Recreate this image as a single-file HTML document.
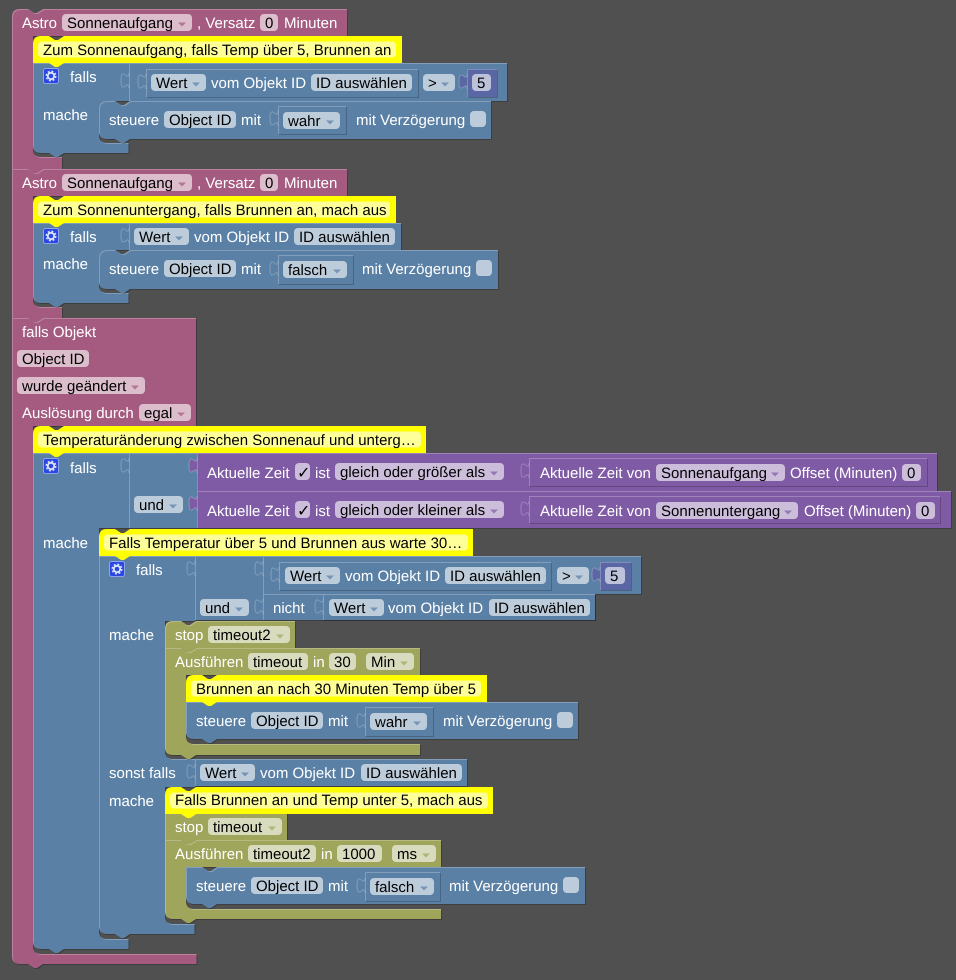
<!DOCTYPE html>
<html><head><meta charset="utf-8">
<style>
html,body{margin:0;padding:0;background:#505050}
svg{display:block}
text{font:15px "Liberation Sans","DejaVu Sans",sans-serif;fill:#fff;white-space:pre;text-rendering:geometricPrecision}
text.k{fill:#000}
text.m{font-weight:bold;font-size:16px}
rect.f{fill:#fff;fill-opacity:.6;height:17px;rx:4px;ry:4px}
rect.c{fill:#fff;fill-opacity:.6;height:16px;rx:4px;ry:4px}
.p,.u,.v,.o,.n{filter:url(#b)}
.p{fill:#a55b80}.u{fill:#5b80a5}.v{fill:#805ba5}.o{fill:#9fa55b}.n{fill:#5b67a5}
.y{fill:#ff0}
.a{fill-opacity:.72}
.tu,.tv,.tn{stroke:#fff;stroke-opacity:.24;stroke-width:1}
.tu{fill:#5b80a5}.tv{fill:#805ba5}.tn{fill:#5b67a5}
</style></head><body>
<svg xmlns="http://www.w3.org/2000/svg" width="956" height="980" viewBox="0 0 956 980">
<defs>
<filter id="b" filterUnits="userSpaceOnUse" x="0" y="0" width="956" height="980" color-interpolation-filters="sRGB">
<feOffset in="SourceAlpha" dx="1" dy="1" result="o"/>
<feComposite in="SourceAlpha" in2="o" operator="out" result="e"/>
<feFlood flood-color="#fff" flood-opacity=".24"/>
<feComposite in2="e" operator="in" result="h"/>
<feComposite in="o" in2="SourceAlpha" operator="out" result="d"/>
<feFlood flood-color="#000" flood-opacity=".22"/>
<feComposite in2="d" operator="in" result="s"/>
<feMerge><feMergeNode in="SourceGraphic"/><feMergeNode in="h"/><feMergeNode in="s"/></feMerge>
</filter>
</defs>
<rect width="956" height="980" fill="#505050"/>

<!-- BLOCK 1 -->
<path class="p" d="M20 9H28l6 4h3l6-4H347V36H33V149Q33 157 41 157H62V169H43l-6 4h-3l-6-4H12V17Q12 9 20 9Z"/>
<path class="u" d="M33 63H129V101H107Q99 101 99 109V135Q99 143 107 143H128.5V153H64l-6 4h-3l-6-4H41Q33 153 33 145Z"/>
<path class="u" d="M129 63H507V101H129Z"/><path class="tu" d="M129 88c0-10-8 8-8-7.5s8 2.5 8-7.5"/>
<path class="u" d="M146 69H418V97H146Z"/><path class="tu" d="M146 89c0-10-8 8-8-7.5s8 2.5 8-7.5"/>
<path class="n" d="M467 69H497V97H467Z"/><path class="tn" d="M467 89c0-10-8 8-8-7.5s8 2.5 8-7.5"/>
<path class="u" d="M107 101H115l6 4h3l6-4H491V139H130l-6 4h-3l-6-4H107Q99 139 99 131V109Q99 101 107 101Z"/>
<path class="u" d="M278 106H346V134H278Z"/><path class="tu" d="M278 126c0-10-8 8-8-7.5s8 2.5 8-7.5"/>
<path class="y" d="M41 36H49l6 4h3l6-4H402V63H64l-6 4h-3l-6-4H33V44Q33 36 41 36Z"/>
<text x="22" y="28">Astro</text>
<rect class="f" x="62" y="14" width="130"/><text class="k" x="67" y="28">Sonnenaufgang</text><path class="a" d="M178 22.5h8l-4 4z" fill="#a55b80"/>
<text x="197" y="28">, Versatz</text>
<rect class="f" x="260" y="14" width="18"/><text class="k" x="265" y="28">0</text>
<text x="284" y="28">Minuten</text>
<rect class="c" x="38" y="41.5" width="358"/><text class="k" x="43" y="55">Zum Sonnenaufgang, falls Temp über 5, Brunnen an</text>
<g transform="translate(43 68)"><rect x=".5" y=".5" width="15" height="15" rx="2" fill="#2a47e2" stroke="#8fa2ec"/><circle cx="8" cy="8" r="3.2" fill="none" stroke="#dfe6ff" stroke-width="1.8"/><circle cx="8" cy="8" r="4.8" fill="none" stroke="#dfe6ff" stroke-width="1.4" stroke-dasharray="2 1.8"/></g>
<text x="70" y="82">falls</text>
<rect class="f" x="151" y="74" width="55"/><text class="k" x="156" y="88">Wert</text><path class="a" d="M192 82.5h8l-4 4z" fill="#5b80a5"/>
<text x="211" y="88">vom Objekt ID</text>
<rect class="f" x="311" y="74" width="101"/><text class="k" x="316" y="88">ID auswählen</text>
<rect class="f" x="423" y="74" width="32"/><text class="k" x="428" y="88">&gt;</text><path class="a" d="M441 82.5h8l-4 4z" fill="#5b80a5"/>
<rect class="f" x="472" y="74" width="19"/><text class="k" x="477" y="88">5</text>
<text x="43" y="120">mache</text>
<text x="109" y="125">steuere</text>
<rect class="f" x="164" y="111" width="72"/><text class="k" x="169" y="125">Object ID</text>
<text x="241" y="125">mit</text>
<rect class="f" x="283" y="112" width="57"/><text class="k" x="288" y="126">wahr</text><path class="a" d="M326 120.5h8l-4 4z" fill="#5b80a5"/>
<text x="356" y="125">mit Verzögerung</text>
<rect class="c" x="470" y="111" width="16"/>

<!-- BLOCK 2 -->
<path class="p" d="M12 169H28l6 4h3l6-4H347V196H33V299Q33 307 41 307H62V318H43l-6 4h-3l-6-4H12Z"/>
<path class="u" d="M33 223H129V250H107Q99 250 99 258V285Q99 293 107 293H128.5V303H64l-6 4h-3l-6-4H41Q33 303 33 295Z"/>
<path class="u" d="M129 223H401V250H129Z"/><path class="tu" d="M129 243c0-10-8 8-8-7.5s8 2.5 8-7.5"/>
<path class="u" d="M107 250H115l6 4h3l6-4H498V289H130l-6 4h-3l-6-4H107Q99 289 99 281V258Q99 250 107 250Z"/>
<path class="u" d="M278 255H353V284H278Z"/><path class="tu" d="M278 276c0-10-8 8-8-7.5s8 2.5 8-7.5"/>
<path class="y" d="M41 196H49l6 4h3l6-4H396V223H64l-6 4h-3l-6-4H33V204Q33 196 41 196Z"/>
<text x="22" y="188">Astro</text>
<rect class="f" x="62" y="174" width="130"/><text class="k" x="67" y="188">Sonnenaufgang</text><path class="a" d="M178 182.5h8l-4 4z" fill="#a55b80"/>
<text x="197" y="188">, Versatz</text>
<rect class="f" x="260" y="174" width="18"/><text class="k" x="265" y="188">0</text>
<text x="284" y="188">Minuten</text>
<rect class="c" x="38" y="201.5" width="352"/><text class="k" x="43" y="215">Zum Sonnenuntergang, falls Brunnen an, mach aus</text>
<g transform="translate(43 228)"><rect x=".5" y=".5" width="15" height="15" rx="2" fill="#2a47e2" stroke="#8fa2ec"/><circle cx="8" cy="8" r="3.2" fill="none" stroke="#dfe6ff" stroke-width="1.8"/><circle cx="8" cy="8" r="4.8" fill="none" stroke="#dfe6ff" stroke-width="1.4" stroke-dasharray="2 1.8"/></g>
<text x="70" y="242">falls</text>
<rect class="f" x="134" y="228" width="55"/><text class="k" x="139" y="242">Wert</text><path class="a" d="M175 236.5h8l-4 4z" fill="#5b80a5"/>
<text x="194" y="242">vom Objekt ID</text>
<rect class="f" x="294" y="228" width="101"/><text class="k" x="299" y="242">ID auswählen</text>
<text x="43" y="269">mache</text>
<text x="109" y="274">steuere</text>
<rect class="f" x="164" y="260" width="72"/><text class="k" x="169" y="274">Object ID</text>
<text x="241" y="274">mit</text>
<rect class="f" x="283" y="261" width="64"/><text class="k" x="288" y="275">falsch</text><path class="a" d="M333 269.5h8l-4 4z" fill="#5b80a5"/>
<text x="362" y="274">mit Verzögerung</text>
<rect class="c" x="476" y="260" width="16"/>

<!-- BLOCK 3 -->
<path class="p" d="M12 318H28l6 4h3l6-4H196V426H33V946Q33 954 41 954H196.5V964H43l-6 4h-3l-6-4H20Q12 964 12 956Z"/>
<path class="u" d="M33 453H129V528H99V931Q99 939 107 939H128.5V949H64l-6 4h-3l-6-4H41Q33 949 33 941Z"/>
<path class="u" d="M129 453H197V528H129Z"/><path class="tu" d="M129 473c0-10-8 8-8-7.5s8 2.5 8-7.5"/>
<path class="v" d="M197 453H937V491H197Z"/><path class="tv" d="M197 473c0-10-8 8-8-7.5s8 2.5 8-7.5"/>
<path class="v" d="M197 491H951V528H197Z"/><path class="tv" d="M197 511c0-10-8 8-8-7.5s8 2.5 8-7.5"/>
<path class="v" d="M529 458H927V486H529Z"/><path class="tv" d="M529 478c0-10-8 8-8-7.5s8 2.5 8-7.5"/>
<path class="v" d="M529 496H940V523H529Z"/><path class="tv" d="M529 516c0-10-8 8-8-7.5s8 2.5 8-7.5"/>
<path class="y" d="M41 426H49l6 4h3l6-4H426V453H64l-6 4h-3l-6-4H33V434Q33 426 41 426Z"/>
<text x="22" y="337">falls Objekt</text>
<rect class="f" x="17" y="350" width="72"/><text class="k" x="22" y="364">Object ID</text>
<rect class="f" x="17" y="377" width="128"/><text class="k" x="22" y="391">wurde geändert</text><path class="a" d="M131 385.5h8l-4 4z" fill="#a55b80"/>
<text x="22" y="418">Auslösung durch</text>
<rect class="f" x="139" y="404" width="52"/><text class="k" x="144" y="418">egal</text><path class="a" d="M177 412.5h8l-4 4z" fill="#a55b80"/>
<rect class="c" x="38" y="431.5" width="383"/><text class="k" x="43" y="445">Temperaturänderung zwischen Sonnenauf und unterg…</text>
<g transform="translate(43 458)"><rect x=".5" y=".5" width="15" height="15" rx="2" fill="#2a47e2" stroke="#8fa2ec"/><circle cx="8" cy="8" r="3.2" fill="none" stroke="#dfe6ff" stroke-width="1.8"/><circle cx="8" cy="8" r="4.8" fill="none" stroke="#dfe6ff" stroke-width="1.4" stroke-dasharray="2 1.8"/></g>
<text x="70" y="473">falls</text>
<rect class="f" x="134" y="496" width="49"/><text class="k" x="139" y="510">und</text><path class="a" d="M169 504.5h8l-4 4z" fill="#5b80a5"/>
<text x="207" y="478">Aktuelle Zeit</text>
<rect class="f" x="295" y="463" width="15"/><text class="k m" x="297" y="478">✓</text>
<text x="315" y="478">ist</text>
<rect class="f" x="335" y="463" width="169"/><text class="k" x="340" y="477">gleich oder größer als</text><path class="a" d="M490 471.5h8l-4 4z" fill="#805ba5"/>
<text x="540" y="478">Aktuelle Zeit von</text>
<rect class="f" x="656" y="464" width="129"/><text class="k" x="661" y="478">Sonnenaufgang</text><path class="a" d="M771 472.5h8l-4 4z" fill="#805ba5"/>
<text x="790" y="478">Offset (Minuten)</text>
<rect class="f" x="902" y="464" width="19"/><text class="k" x="907" y="478">0</text>
<text x="207" y="516">Aktuelle Zeit</text>
<rect class="f" x="295" y="501" width="15"/><text class="k m" x="297" y="516">✓</text>
<text x="315" y="516">ist</text>
<rect class="f" x="335" y="501" width="169"/><text class="k" x="340" y="515">gleich oder kleiner als</text><path class="a" d="M490 509.5h8l-4 4z" fill="#805ba5"/>
<text x="540" y="516">Aktuelle Zeit von</text>
<rect class="f" x="656" y="502" width="142"/><text class="k" x="661" y="516">Sonnenuntergang</text><path class="a" d="M784 510.5h8l-4 4z" fill="#805ba5"/>
<text x="804" y="516">Offset (Minuten)</text>
<rect class="f" x="916" y="502" width="19"/><text class="k" x="921" y="516">0</text>
<text x="43" y="548">mache</text>

<!-- inner if -->
<path class="u" d="M99 556H195V621H165V751Q165 759 173 759H195V787H165V916Q165 924 173 924H194.5V934H130l-6 4h-3l-6-4H107Q99 934 99 926Z"/>
<path class="u" d="M195 556H263V620H195Z"/><path class="tu" d="M195 576c0-10-8 8-8-7.5s8 2.5 8-7.5"/>
<path class="u" d="M263 556H641V594H263Z"/><path class="tu" d="M263 576c0-10-8 8-8-7.5s8 2.5 8-7.5"/>
<path class="u" d="M279 562H551V590H279Z"/><path class="tu" d="M279 582c0-10-8 8-8-7.5s8 2.5 8-7.5"/>
<path class="n" d="M600 562H631V590H600Z"/><path class="tn" d="M600 582c0-10-8 8-8-7.5s8 2.5 8-7.5"/>
<path class="u" d="M263 594H595V620H263Z"/><path class="tu" d="M263 614c0-10-8 8-8-7.5s8 2.5 8-7.5"/>
<path class="u" d="M323 594H595V620H323Z"/><path class="tu" d="M323 614c0-10-8 8-8-7.5s8 2.5 8-7.5"/>
<path class="y" d="M107 529H115l6 4h3l6-4H473V556H130l-6 4h-3l-6-4H99V537Q99 529 107 529Z"/>
<rect class="c" x="104" y="534.5" width="364"/><text class="k" x="109" y="548">Falls Temperatur über 5 und Brunnen aus warte 30…</text>
<g transform="translate(109 561)"><rect x=".5" y=".5" width="15" height="15" rx="2" fill="#2a47e2" stroke="#8fa2ec"/><circle cx="8" cy="8" r="3.2" fill="none" stroke="#dfe6ff" stroke-width="1.8"/><circle cx="8" cy="8" r="4.8" fill="none" stroke="#dfe6ff" stroke-width="1.4" stroke-dasharray="2 1.8"/></g>
<text x="136" y="575">falls</text>
<rect class="f" x="285" y="567" width="55"/><text class="k" x="290" y="581">Wert</text><path class="a" d="M326 575.5h8l-4 4z" fill="#5b80a5"/>
<text x="345" y="581">vom Objekt ID</text>
<rect class="f" x="445" y="567" width="101"/><text class="k" x="450" y="581">ID auswählen</text>
<rect class="f" x="557" y="567" width="32"/><text class="k" x="562" y="581">&gt;</text><path class="a" d="M575 575.5h8l-4 4z" fill="#5b80a5"/>
<rect class="f" x="605" y="567" width="20"/><text class="k" x="610" y="581">5</text>
<rect class="f" x="200" y="599" width="49"/><text class="k" x="205" y="613">und</text><path class="a" d="M235 607.5h8l-4 4z" fill="#5b80a5"/>
<text x="273" y="613">nicht</text>
<rect class="f" x="329" y="599" width="55"/><text class="k" x="334" y="613">Wert</text><path class="a" d="M370 607.5h8l-4 4z" fill="#5b80a5"/>
<text x="388" y="613">vom Objekt ID</text>
<rect class="f" x="489" y="599" width="101"/><text class="k" x="494" y="613">ID auswählen</text>
<text x="109" y="640">mache</text>

<!-- olive 1 -->
<path class="o" d="M173 621H181l6 4h3l6-4H295V648H196l-6 4h-3l-6-4H165V629Q165 621 173 621Z"/>
<path class="o" d="M165 648H181l6 4h3l6-4H420V675H186V736Q186 744 194 744H420V755H196l-6 4h-3l-6-4H173Q165 755 165 747Z"/>
<path class="u" d="M186 702H578V739H217l-6 4h-3l-6-4H194Q186 739 186 731Z"/>
<path class="u" d="M365 707H433V736H365Z"/><path class="tu" d="M365 728c0-10-8 8-8-7.5s8 2.5 8-7.5"/>
<path class="y" d="M194 675H202l6 4h3l6-4H487V702H217l-6 4h-3l-6-4H186V683Q186 675 194 675Z"/>
<text x="175" y="640">stop</text>
<rect class="f" x="208" y="626" width="82"/><text class="k" x="213" y="640">timeout2</text><path class="a" d="M276 634.5h8l-4 4z" fill="#9fa55b"/>
<text x="175" y="667">Ausführen</text>
<rect class="f" x="248" y="653" width="60"/><text class="k" x="253" y="667">timeout</text>
<text x="313" y="667">in</text>
<rect class="f" x="329" y="653" width="27"/><text class="k" x="334" y="667">30</text>
<rect class="f" x="366" y="653" width="48"/><text class="k" x="371" y="667">Min</text><path class="a" d="M400 661.5h8l-4 4z" fill="#9fa55b"/>
<rect class="c" x="191" y="680.5" width="290"/><text class="k" x="196" y="694">Brunnen an nach 30 Minuten Temp über 5</text>
<text x="196" y="726">steuere</text>
<rect class="f" x="251" y="712" width="72"/><text class="k" x="256" y="726">Object ID</text>
<text x="328" y="726">mit</text>
<rect class="f" x="370" y="713" width="57"/><text class="k" x="375" y="727">wahr</text><path class="a" d="M413 721.5h8l-4 4z" fill="#5b80a5"/>
<text x="443" y="726">mit Verzögerung</text>
<rect class="c" x="557" y="712" width="16"/>

<!-- sonst falls -->
<path class="u" d="M195 759H467V786H195Z"/><path class="tu" d="M195 779c0-10-8 8-8-7.5s8 2.5 8-7.5"/>
<text x="109" y="778">sonst falls</text>
<rect class="f" x="200" y="764" width="55"/><text class="k" x="205" y="778">Wert</text><path class="a" d="M241 772.5h8l-4 4z" fill="#5b80a5"/>
<text x="260" y="778">vom Objekt ID</text>
<rect class="f" x="361" y="764" width="101"/><text class="k" x="366" y="778">ID auswählen</text>
<text x="109" y="806">mache</text>

<!-- olive 2 -->
<path class="o" d="M165 813H181l6 4h3l6-4H287V840H196l-6 4h-3l-6-4H165Z"/>
<path class="o" d="M165 840H181l6 4h3l6-4H441V867H186V901Q186 909 194 909H441V919H196l-6 4h-3l-6-4H173Q165 919 165 911Z"/>
<path class="u" d="M186 867H202l6 4h3l6-4H585V904H217l-6 4h-3l-6-4H194Q186 904 186 896Z"/>
<path class="u" d="M365 872H440V901H365Z"/><path class="tu" d="M365 893c0-10-8 8-8-7.5s8 2.5 8-7.5"/>
<path class="y" d="M173 787H181l6 4h3l6-4H493V814H196l-6 4h-3l-6-4H165V795Q165 787 173 787Z"/>
<rect class="c" x="170" y="792.5" width="318"/><text class="k" x="175" y="805">Falls Brunnen an und Temp unter 5, mach aus</text>
<text x="175" y="832">stop</text>
<rect class="f" x="208" y="818" width="74"/><text class="k" x="213" y="832">timeout</text><path class="a" d="M268 826.5h8l-4 4z" fill="#9fa55b"/>
<text x="175" y="859">Ausführen</text>
<rect class="f" x="248" y="845" width="68"/><text class="k" x="253" y="859">timeout2</text>
<text x="321" y="859">in</text>
<rect class="f" x="337" y="845" width="45"/><text class="k" x="342" y="859">1000</text>
<rect class="f" x="392" y="845" width="44"/><text class="k" x="397" y="859">ms</text><path class="a" d="M422 853.5h8l-4 4z" fill="#9fa55b"/>
<text x="196" y="891">steuere</text>
<rect class="f" x="251" y="877" width="72"/><text class="k" x="256" y="891">Object ID</text>
<text x="328" y="891">mit</text>
<rect class="f" x="370" y="878" width="64"/><text class="k" x="375" y="892">falsch</text><path class="a" d="M420 886.5h8l-4 4z" fill="#5b80a5"/>
<text x="449" y="891">mit Verzögerung</text>
<rect class="c" x="563" y="877" width="16"/>
</svg>
</body></html>
